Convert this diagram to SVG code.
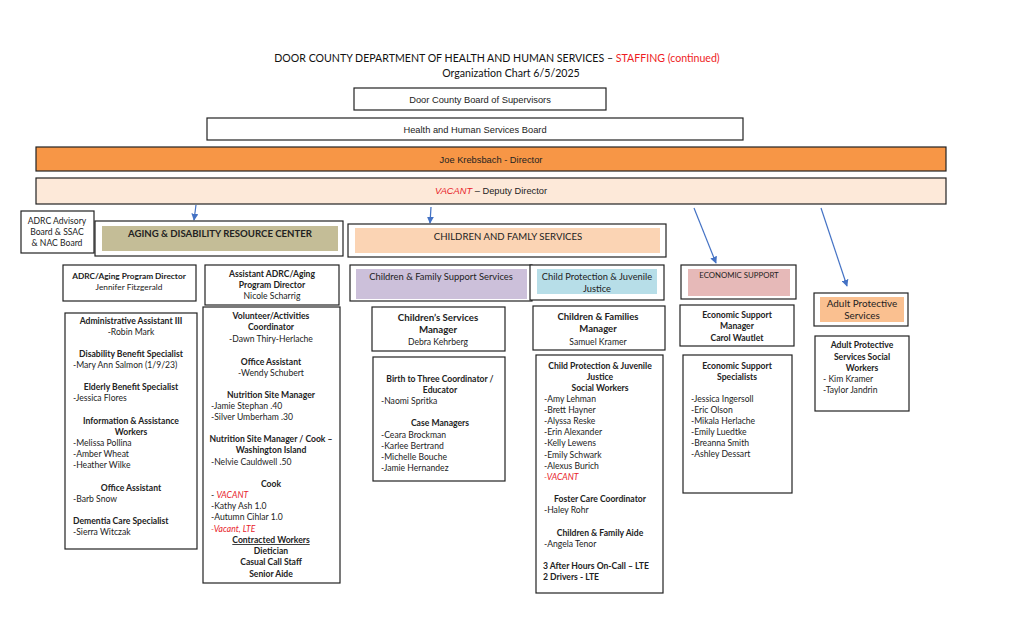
<svg xmlns="http://www.w3.org/2000/svg" width="1024" height="622" viewBox="0 0 1024 622">
<defs>
<style>
.bx{fill:#fff;stroke:#222;stroke-width:1.2}
.t{font-family:Lato,"Open Sans","Liberation Sans",sans-serif;font-size:8.6px;fill:#222}
.c{text-anchor:middle}
.b{font-weight:bold}
.a{font-family:"Liberation Sans",Arial,sans-serif;font-size:9.3px;fill:#222;text-anchor:middle}
.red{fill:#e8222a;font-style:italic}
.ttl{font-family:Lato,"Open Sans","Liberation Sans",sans-serif;font-size:10.6px;fill:#111;text-anchor:middle}
.con{stroke:#4472c4;stroke-width:1.2;fill:none;marker-end:url(#ah)}
</style>
<marker id="ah" viewBox="0 0 10 10" refX="9" refY="5" markerWidth="7" markerHeight="7" orient="auto" markerUnits="userSpaceOnUse">
<path d="M0,0 L10,5 L0,10 z" fill="#4472c4"/>
</marker>
</defs>
<rect width="1024" height="622" fill="#fff"/>

<g id="title">
<text class="ttl" x="497" y="62">DOOR COUNTY DEPARTMENT OF HEALTH AND HUMAN SERVICES – <tspan fill="#ee1c24">STAFFING (continued)</tspan></text>
<text class="ttl" x="511" y="77">Organization Chart 6/5/2025</text>
</g>

<g id="board-supervisors">
<rect class="bx" x="354" y="88" width="252" height="22"/>
<text class="a" x="480" y="102.5">Door County Board of Supervisors</text>
</g>
<g id="hhs-board">
<rect class="bx" x="207" y="118" width="536" height="22"/>
<text class="a" x="475" y="132.5">Health and Human Services Board</text>
</g>
<g id="director">
<rect x="36" y="147" width="910" height="24" fill="#f79646" stroke="#222" stroke-width="1.2"/>
<text class="a" x="491" y="162.5">Joe Krebsbach - Director</text>
</g>
<g id="deputy">
<rect x="36" y="178" width="910" height="26" fill="#fde9d9" stroke="#222" stroke-width="1.2"/>
<text class="a" x="491" y="194"><tspan class="red">VACANT</tspan> – Deputy Director</text>
</g>

<g id="connectors">
<line class="con" x1="196" y1="205" x2="194" y2="220"/>
<line class="con" x1="431" y1="207" x2="430" y2="223"/>
<line class="con" x1="694" y1="208" x2="716" y2="263"/>
<line class="con" x1="821" y1="208" x2="847" y2="286"/>
</g>

<g id="adrc-advisory">
<rect class="bx" x="21" y="211" width="73" height="42"/>
<text class="t c" x="57" y="224">ADRC Advisory</text>
<text class="t c" x="57" y="235">Board &amp; SSAC</text>
<text class="t c" x="57" y="246">&amp; NAC Board</text>
</g>

<g id="adrc">
<rect class="bx" x="95" y="221" width="248" height="35"/>
<rect x="102" y="226" width="236" height="25" fill="#c4bd97"/>
<text class="t c b" x="220" y="237" style="font-size:9.6px">AGING &amp; DISABILITY RESOURCE CENTER</text>
</g>

<g id="cfs">
<rect class="bx" x="348" y="224" width="318" height="33"/>
<rect x="355" y="228" width="305" height="25" fill="#fbd4b4"/>
<text class="t c" x="508" y="240" style="font-size:9.6px">CHILDREN AND FAMLY SERVICES</text>
</g>

<g id="cf-support">
<rect class="bx" x="350" y="265" width="182" height="36"/>
<rect x="356" y="269" width="171" height="30" fill="#ccc0da"/>
<text class="t c" x="441" y="280" style="font-size:9.4px">Children &amp; Family Support Services</text>
</g>

<g id="cp-jj">
<rect class="bx" x="530" y="265" width="134" height="35"/>
<rect x="537" y="269" width="120" height="25" fill="#b7dee8"/>
<text class="t c" x="597" y="279.5" style="font-size:9.3px">Child Protection &amp; Juvenile</text>
<text class="t c" x="597" y="291.5" style="font-size:9.3px">Justice</text>
</g>

<g id="economic-support">
<rect class="bx" x="681" y="265" width="115" height="34"/>
<rect x="688" y="269" width="102" height="27" fill="#e6b9b8"/>
<text class="t c" x="739" y="278" style="font-size:7.8px">ECONOMIC SUPPORT</text>
</g>

<g id="aps">
<rect class="bx" x="814" y="293" width="94" height="33"/>
<rect x="820" y="297" width="84" height="25" fill="#fac090"/>
<text class="t c" x="862" y="306.5" style="font-size:9.9px">Adult Protective</text>
<text class="t c" x="862" y="318.5" style="font-size:9.9px">Services</text>
</g>

<g id="adrc-director">
<rect class="bx" x="63" y="265" width="133" height="36"/>
<text class="t c b" x="129" y="279" style="font-size:8.3px">ADRC/Aging Program Director</text>
<text class="t c" x="129" y="290" style="font-size:8.3px">Jennifer Fitzgerald</text>
</g>

<g id="adrc-asst-director">
<rect class="bx" x="205" y="265" width="134" height="40"/>
<text class="t c b" x="272" y="277">Assistant ADRC/Aging</text>
<text class="t c b" x="272" y="288">Program Director</text>
<text class="t c" x="272" y="299">Nicole Scharrig</text>
</g>

<g id="adrc-staff">
<rect class="bx" x="65" y="313" width="132" height="236"/>
<text class="t c b" x="131" y="324">Administrative Assistant III</text>
<text class="t c" x="131" y="335">-Robin Mark</text>
<text class="t c b" x="131" y="357">Disability Benefit Specialist</text>
<text class="t" x="73" y="368">-Mary Ann Salmon (1/9/23)</text>
<text class="t c b" x="131" y="390">Elderly Benefit Specialist</text>
<text class="t" x="73" y="401">-Jessica Flores</text>
<text class="t c b" x="131" y="424">Information &amp; Assistance</text>
<text class="t c b" x="131" y="435">Workers</text>
<text class="t" x="73" y="446">-Melissa Pollina</text>
<text class="t" x="73" y="457">-Amber Wheat</text>
<text class="t" x="73" y="468">-Heather Wilke</text>
<text class="t c b" x="131" y="491">Office Assistant</text>
<text class="t" x="73" y="502">-Barb Snow</text>
<text class="t b" x="73" y="524">Dementia Care Specialist</text>
<text class="t" x="73" y="535">-Sierra Witczak</text>
</g>

<g id="adrc-staff-2">
<rect class="bx" x="203" y="307" width="137" height="276"/>
<text class="t c b" x="271" y="319">Volunteer/Activities</text>
<text class="t c b" x="271" y="330">Coordinator</text>
<text class="t c" x="271" y="342">-Dawn Thiry-Herlache</text>
<text class="t c b" x="271" y="365">Office Assistant</text>
<text class="t c" x="271" y="376">-Wendy Schubert</text>
<text class="t c b" x="271" y="398">Nutrition Site Manager</text>
<text class="t" x="211" y="409">-Jamie Stephan .40</text>
<text class="t" x="211" y="420">-Silver Umberham .30</text>
<text class="t c b" x="271" y="442">Nutrition Site Manager / Cook –</text>
<text class="t c b" x="271" y="453">Washington Island</text>
<text class="t" x="211" y="465">-Nelvie Cauldwell .50</text>
<text class="t c b" x="271" y="487">Cook</text>
<text class="t" x="211" y="498">- <tspan class="red">VACANT</tspan></text>
<text class="t" x="211" y="509">-Kathy Ash 1.0</text>
<text class="t" x="211" y="520">-Autumn Cihlar 1.0</text>
<text class="t red" x="211" y="532">-Vacant, LTE</text>
<text class="t c b" x="271" y="543" text-decoration="underline">Contracted Workers</text>
<text class="t c b" x="271" y="554">Dietician</text>
<text class="t c b" x="271" y="565">Casual Call Staff</text>
<text class="t c b" x="271" y="577">Senior Aide</text>
</g>

<g id="childrens-services-manager">
<rect class="bx" x="372" y="307" width="133" height="44"/>
<text class="t c b" x="438" y="321" style="font-size:9.7px">Children’s Services</text>
<text class="t c b" x="438" y="333" style="font-size:9.7px">Manager</text>
<text class="t c" x="438" y="344.5">Debra Kehrberg</text>
</g>

<g id="cf-manager">
<rect class="bx" x="533" y="306" width="132" height="44"/>
<text class="t c b" x="598" y="320" style="font-size:9.5px">Children &amp; Families</text>
<text class="t c b" x="598" y="332" style="font-size:9.5px">Manager</text>
<text class="t c" x="598" y="344.5">Samuel Kramer</text>
</g>

<g id="cf-support-staff">
<rect class="bx" x="373" y="357" width="132" height="124"/>
<text class="t c b" x="440" y="382">Birth to Three Coordinator /</text>
<text class="t c b" x="440" y="393">Educator</text>
<text class="t" x="381" y="404">-Naomi Spritka</text>
<text class="t c b" x="440" y="426">Case Managers</text>
<text class="t" x="381" y="438">-Ceara Brockman</text>
<text class="t" x="381" y="449">-Karlee Bertrand</text>
<text class="t" x="381" y="460">-Michelle Bouche</text>
<text class="t" x="381" y="471">-Jamie Hernandez</text>
</g>

<g id="cp-staff">
<rect class="bx" x="536" y="355" width="127" height="238"/>
<text class="t c b" x="600" y="369">Child Protection &amp; Juvenile</text>
<text class="t c b" x="600" y="380">Justice</text>
<text class="t c b" x="600" y="391">Social Workers</text>
<text class="t" x="544" y="402">-Amy Lehman</text>
<text class="t" x="544" y="413">-Brett Hayner</text>
<text class="t" x="544" y="424">-Alyssa Reske</text>
<text class="t" x="544" y="435">-Erin Alexander</text>
<text class="t" x="544" y="446">-Kelly Lewens</text>
<text class="t" x="544" y="458">-Emily Schwark</text>
<text class="t" x="544" y="469">-Alexus Burich</text>
<text class="t red" x="544" y="480">-VACANT</text>
<text class="t c b" x="600" y="502">Foster Care Coordinator</text>
<text class="t" x="544" y="513">-Haley Rohr</text>
<text class="t c b" x="600" y="536">Children &amp; Family Aide</text>
<text class="t" x="544" y="547">-Angela Tenor</text>
<text class="t b" x="543" y="569">3 After Hours On-Call – LTE</text>
<text class="t b" x="543" y="580">2 Drivers - LTE</text>
</g>

<g id="es-manager">
<rect class="bx" x="680" y="305" width="114" height="41"/>
<text class="t c b" x="737" y="318">Economic Support</text>
<text class="t c b" x="737" y="329">Manager</text>
<text class="t c b" x="737" y="341">Carol Wautlet</text>
</g>

<g id="es-specialists">
<rect class="bx" x="683" y="355" width="109" height="138"/>
<text class="t c b" x="737" y="369">Economic Support</text>
<text class="t c b" x="737" y="380">Specialists</text>
<text class="t" x="691" y="402">-Jessica Ingersoll</text>
<text class="t" x="691" y="413">-Eric Olson</text>
<text class="t" x="691" y="424">-Mikala Herlache</text>
<text class="t" x="691" y="435">-Emily Luedtke</text>
<text class="t" x="691" y="446">-Breanna Smith</text>
<text class="t" x="691" y="457">-Ashley Dessart</text>
</g>

<g id="aps-workers">
<rect class="bx" x="815" y="336" width="94" height="75"/>
<text class="t c b" x="862" y="348">Adult Protective</text>
<text class="t c b" x="862" y="360">Services Social</text>
<text class="t c b" x="862" y="371">Workers</text>
<text class="t" x="823" y="382">- Kim Kramer</text>
<text class="t" x="823" y="393">-Taylor Jandrin</text>
</g>
</svg>
